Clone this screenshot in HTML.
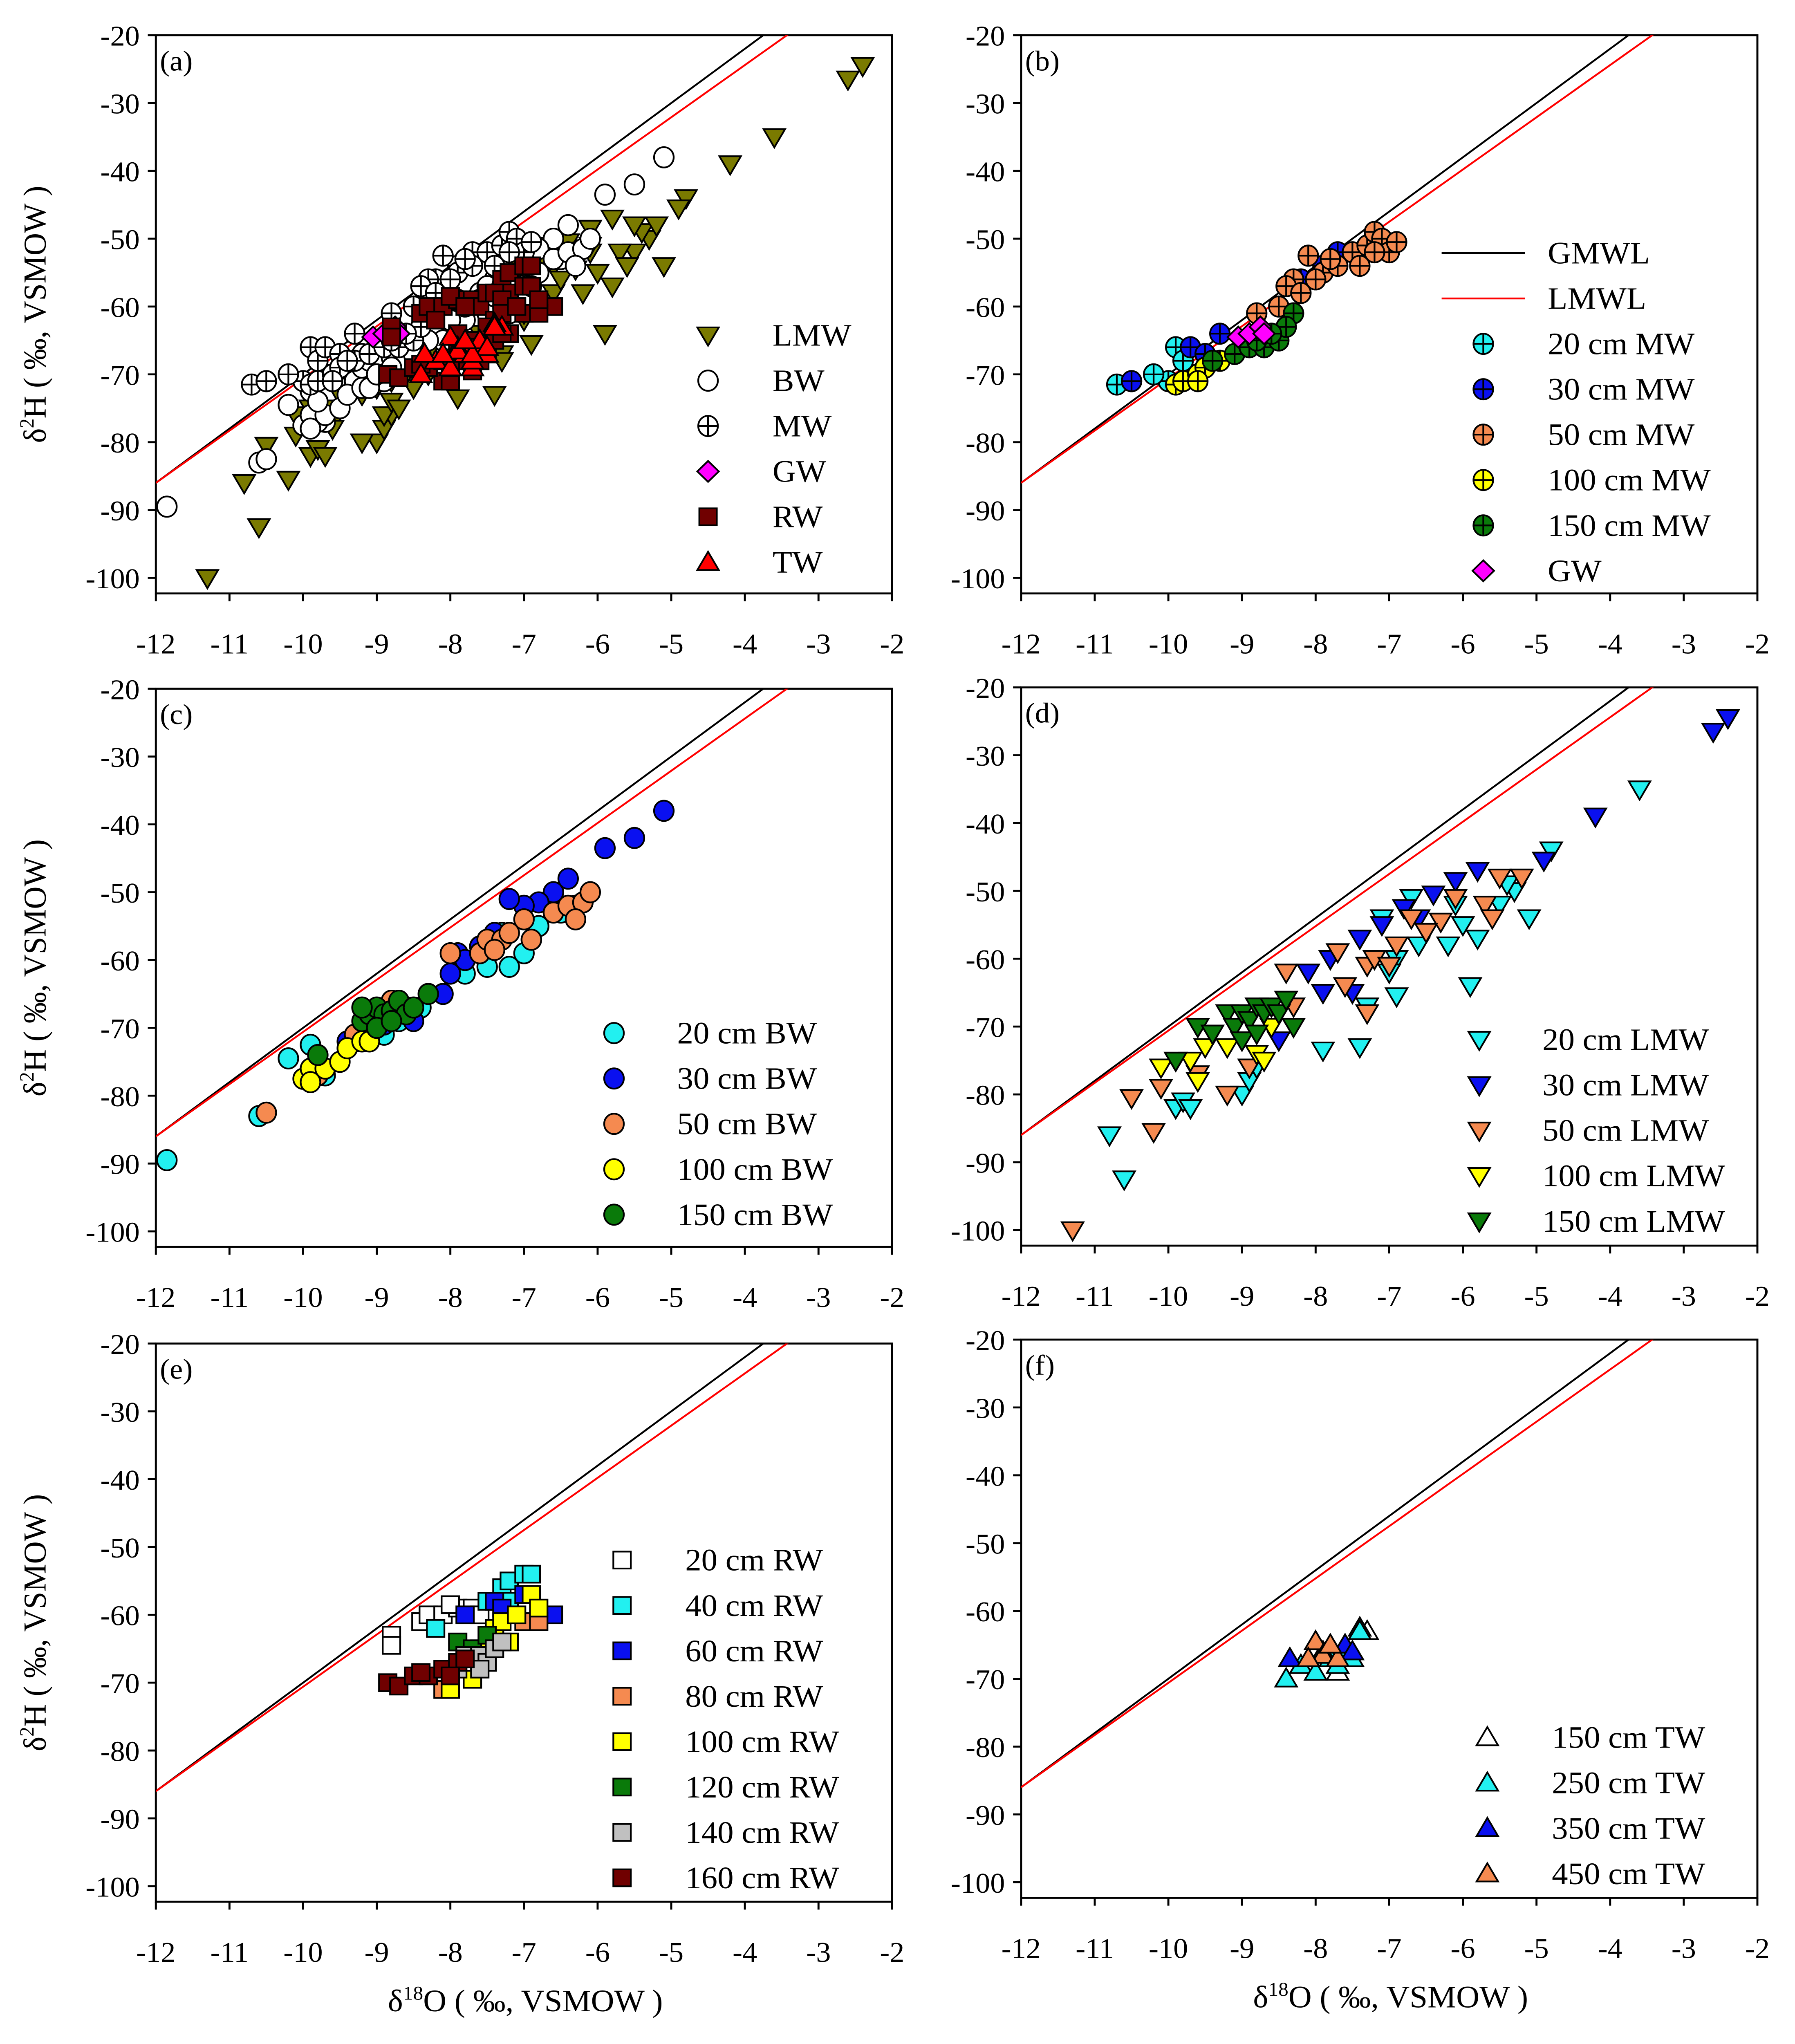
<!DOCTYPE html>
<html><head><meta charset="utf-8"><title>Isotope panels</title>
<style>html,body{margin:0;padding:0;background:#fff;width:100%;height:100%;overflow:hidden}svg{display:block;position:absolute;left:0;top:0;width:100vw;height:100vh}text{font-family:"Liberation Serif",serif;fill:#000}</style>
</head><body>
<svg id="chart" viewBox="0 0 1336 1567" preserveAspectRatio="none" xmlns="http://www.w3.org/2000/svg"></svg>
<script>
// ---- data (δ18O, δ2H) ----
const xTicks = [-12,-11,-10,-9,-8,-7,-6,-5,-4,-3,-2];
const yTicks = [-20,-30,-40,-50,-60,-70,-80,-90,-100];
const gmwl = [8, 10];
const lmwl = [7.7, 6.4];

const mw20x=[-10.7,-10.5,-10.0,-9.9,-9.8,-9.5,-10.2], mw20y=[-71.5,-71,-71,-66,-68,-67,-70];
const mw30x=[-10.5,-9.7,-9.5,-9.3,-8.9,-7.7,-7.9,-8.2], mw30y=[-71,-66,-67,-64,-65,-52,-54,-56];
const mw50x=[-8.1,-7.9,-8.3,-8.4,-8.2,-8.5,-8.0,-7.7,-7.5,-7.3,-7.2,-7.1,-7.0,-6.9,-7.4,-7.8,-8.8,-7.2];
const mw50y=[-52.5,-55,-56,-57,-58,-60,-56,-54,-52,-51,-49,-50,-52,-50.5,-54,-53,-61,-52];
const mw100x=[-9.9,-9.8,-9.6,-9.5,-9.3,-9.6], mw100y=[-71.5,-71,-70,-69,-68,-71];
const mw150x=[-9.4,-9.1,-8.9,-8.7,-8.5,-8.3,-8.4,-8.6,-8.8], mw150y=[-68,-67,-66,-66,-65,-61,-63,-64,-65];
const gwx=[-9.05,-8.9,-8.75,-8.7], gwy=[-64.5,-64,-63,-64];

const bw20x=[-11.85,-10.6,-10.2,-9.9,-9.7,-9.3,-8.9,-8.7,-8.4,-7.6,-7.5,-7.2,-7.0,-6.9,-6.8,-6.5,-6.3,-7.8,-7.3];
const bw20y=[-89.5,-83,-74.5,-72.5,-77,-72,-71,-69,-67,-58,-61,-61,-59,-57,-55,-53,-52,-62,-56];
const bw30x=[-5.1,-5.5,-5.9,-6.4,-6.6,-6.8,-7.0,-7.2,-7.4,-7.6,-7.9,-8.0,-8.1,-8.5,-9.4,-8.9,-7.8];
const bw30y=[-38,-42,-43.5,-48,-50,-51.5,-52,-51,-56,-58,-59,-62,-65,-69,-72,-69.5,-60];
const bw50x=[-10.5,-9.8,-9.3,-8.8,-8.6,-8.0,-7.6,-7.5,-7.3,-7.2,-7.0,-6.9,-6.6,-6.4,-6.2,-6.1,-6.3,-7.4];
const bw50y=[-82.5,-77,-71,-66,-67,-59,-59,-57,-57,-56,-54,-57,-53,-52,-51.5,-50,-54,-58.5];
const bw100x=[-10.0,-9.9,-9.7,-9.5,-9.4,-9.2,-9.1,-9.0,-9.9], bw100y=[-77.5,-76,-76,-75,-73,-72,-72,-70,-78];
const bw150x=[-9.8,-9.2,-9.1,-9.0,-8.9,-8.8,-8.7,-8.6,-8.5,-8.3,-9.0,-9.2,-8.8];
const bw150y=[-74,-69,-68,-67,-68,-67.5,-66,-68,-67,-65,-70,-67,-69];

const lw20x=[-10.8,-10.6,-9.9,-9.8,-9.7,-9.0,-8.9,-8.8,-7.9,-7.4,-7.5,-7.3,-6.9,-6.9,-6.6,-6.2,-6.0,-5.9,-5.8,-5.5,-5.3,-5.1,-4.8,-3.6,-7.1,-6.7,-6.1,-5.4,-7.0];
const lw20y=[-86,-92.5,-82,-81,-82,-80,-78,-76,-73.5,-73,-65,-67,-65.5,-60,-58,-58,-55,-64,-57,-52,-50,-54,-44,-35,-54,-51,-52,-49,-62];
const lw30x=[-2.4,-2.6,-4.2,-4.9,-5.2,-5.8,-6.1,-6.4,-6.8,-7.1,-7.4,-7.8,-7.9,-8.1,-7.5,-6.6,-8.5];
const lw30y=[-24.5,-26.5,-39,-45.5,-48,-47,-48.5,-50.5,-52.5,-55,-57,-60,-65,-62,-65,-54,-72];
const lw50x=[-11.3,-10.5,-10.2,-10.1,-9.6,-9.2,-8.9,-8.3,-8.4,-7.7,-7.3,-7.2,-7.3,-6.9,-6.7,-6.3,-6.1,-5.7,-5.6,-5.2,-5.5,-7.6,-7.0,-6.5];
const lw50y=[-100,-80.5,-85.5,-79,-77,-80,-76,-67,-62,-59,-61,-60,-68,-58,-54,-54.5,-51,-52,-54,-48,-48,-64,-61,-56];
const lw100x=[-10.1,-9.9,-9.7,-9.5,-9.4,-9.2,-9.0,-8.8,-8.7,-8.6,-9.6], lw100y=[-76,-75,-75,-73,-71,-73,-72,-74,-75,-70,-78];
const lw150x=[-9.9,-9.6,-9.4,-9.2,-9.1,-9.0,-8.9,-8.8,-8.7,-8.6,-8.5,-8.4,-8.3,-9.0,-8.8];
const lw150y=[-75,-70,-71,-68,-70,-68,-69,-67,-68,-67,-68,-66,-70,-72,-71];

const rw20x=[-8.8,-8.8,-8.4,-8.3,-8.1,-7.9,-7.7,-8.0,-7.6], rw20y=[-63,-64.5,-61,-60,-60,-59,-59,-58.5,-60];
const rw40x=[-8.2,-7.3,-7.2,-7.0,-6.9,-7.5,-7.2], rw40y=[-62,-56,-55,-54,-54,-58,-58];
const rw60x=[-7.8,-7.4,-6.6,-7.3,-7.0], rw60y=[-60,-58,-60,-59,-57];
const rw80x=[-8.1,-7.0,-6.8,-7.4,-7.6], rw80y=[-71,-61,-61,-63,-65];
const rw100x=[-8.0,-7.7,-7.5,-7.4,-7.3,-7.1,-6.9,-6.8,-7.2,-7.6], rw100y=[-71,-69.5,-65,-62,-61,-60,-57,-59,-64,-67];
const rw120x=[-7.9,-7.7,-7.5], rw120y=[-64,-65,-63];
const rw140x=[-7.8,-7.6,-7.5,-7.4,-7.3,-7.9,-7.6], rw140y=[-66,-66,-67,-65,-64,-68,-68];
const rw160x=[-8.85,-8.7,-8.5,-8.3,-8.1,-7.9,-7.8,-8.4,-8.0], rw160y=[-70,-70.5,-69,-69,-68,-67,-66.5,-68.5,-69];

const tw150x=[-7.3,-7.4,-7.6,-7.7], tw150y=[-63,-62.5,-65,-69];
const tw250x=[-8.4,-8.2,-8.0,-7.8,-7.6,-7.5,-7.4,-7.7,-7.9], tw250y=[-70,-68,-69,-67,-66,-67,-63,-68,-66];
const tw350x=[-8.35,-7.6,-7.5], tw350y=[-67,-65,-66];
const tw450x=[-8.0,-7.9,-8.1,-7.7,-7.8], tw450y=[-64.5,-66.5,-67,-67,-65];

// ---- rendering ----
const NS="http://www.w3.org/2000/svg";
const svg=document.getElementById('chart');
function mk(tag,attrs,parent){const e=document.createElementNS(NS,tag);for(const k in attrs)e.setAttribute(k,attrs[k]);(parent||svg).appendChild(e);return e;}
const W=548, SY=5.2;
function xs(p,v){return p.L+(v+12)*W/10;}
function ys(p,v){return p.T+(-20-v)*SY;}

function marker(g,shape,fill,cx,cy,name){
  let e;
  if(shape==='circle'||shape==='cross'){
    e=mk('ellipse',{cx:cx,cy:cy,rx:7.3,ry:7.8,fill:fill,stroke:'#000','stroke-width':1.3},g);
    if(shape==='cross'){mk('path',{d:`M${cx-7.3} ${cy}H${cx+7.3}M${cx} ${cy-7.8}V${cy+7.8}`,stroke:'#000','stroke-width':1.3,fill:'none'},g);}
  } else if(shape==='down'){
    e=mk('path',{d:`M${cx-8} ${cy-6}L${cx+8} ${cy-6}L${cx} ${cy+8}Z`,fill:fill,stroke:'#000','stroke-width':1.3},g);
  } else if(shape==='up'){
    e=mk('path',{d:`M${cx-8} ${cy+6}L${cx+8} ${cy+6}L${cx} ${cy-8}Z`,fill:fill,stroke:'#000','stroke-width':1.3},g);
  } else if(shape==='square'){
    e=mk('rect',{x:cx-6.5,y:cy-6.5,width:13,height:13,fill:fill,stroke:'#000','stroke-width':1.3},g);
  } else if(shape==='diamond'){
    e=mk('path',{d:`M${cx} ${cy-8}L${cx+8} ${cy}L${cx} ${cy+8}L${cx-8} ${cy}Z`,fill:fill,stroke:'#000','stroke-width':1.3},g);
  }
  
  
  return e;
}

function panel(p){
  const g=mk('g',{});
  
  
  const B=p.T+82.3*SY;
  const cp=mk('clipPath',{id:'clip-'+p.id},g);
  mk('rect',{x:p.L,y:p.T,width:W,height:B-p.T},cp);
  const frame=mk('rect',{x:p.L,y:p.T,width:W,height:B-p.T,fill:'none',stroke:'#000','stroke-width':1.5},g);
  
  
  xTicks.forEach(v=>{
    const x=xs(p,v);
    mk('line',{x1:x,y1:B,x2:x,y2:B+6,stroke:'#000','stroke-width':1.5},g);
    const t=mk('text',{x:x,y:p.T+474,'font-size':22,'text-anchor':'middle'},g);
    t.textContent=v;
    
    
  });
  yTicks.forEach(v=>{
    const y=ys(p,v);
    mk('line',{x1:p.L-6,y1:y,x2:p.L,y2:y,stroke:'#000','stroke-width':1.5},g);
    const t=mk('text',{x:p.L-12,y:y+8,'font-size':22,'text-anchor':'end'},g);
    t.textContent=v;
    
    
  });
  const inner=mk('g',{'clip-path':`url(#clip-${p.id})`},g);
  [[gmwl,'#000','gmwl-line'],[lmwl,'#f00','lmwl-line']].forEach(([c,col,nm])=>{
    const l=mk('line',{x1:xs(p,-12),y1:ys(p,c[0]*-12+c[1]),x2:xs(p,-2),y2:ys(p,c[0]*-2+c[1]),stroke:col,'stroke-width':1.4},inner);
    
    
  });
  p.series.forEach(s=>{
    for(let i=0;i<s.x.length;i++) marker(inner,s.shape,s.fill,xs(p,s.x[i]),ys(p,s.y[i]),s.name+'-point');
  });
  const lab=mk('text',{x:p.L+3,y:p.T+27,'font-size':22},g);
  lab.textContent='('+p.id+')';
  
  
  let r=0;
  p.legend.forEach(it=>{
    const y=p.lg.y0+r*34.8;
    if(it.line){
      const l=mk('line',{x1:p.lg.mx-31,y1:y,x2:p.lg.mx+31,y2:y,stroke:it.line,'stroke-width':1.4},g);
      
      
    } else marker(g,it.shape,it.fill,p.lg.mx,y,'legend-marker');
    const t=mk('text',{x:p.lg.tx,y:y+8,'font-size':24},g);
    t.textContent=it.label;
    
    
    r++;
  });
  if(p.yTitle){
    const cy=p.T+214;
    const t=mk('text',{x:0,y:0,'font-size':24,'text-anchor':'middle',transform:`translate(${p.L-82},${cy}) rotate(-90)`},g);
    t.innerHTML='δ<tspan font-size="15" dy="-9">2</tspan><tspan dy="9">H ( ‰, VSMOW )</tspan>';
    
    
  }
  if(p.xTitle){
    const t=mk('text',{x:p.L+275,y:p.T+512,'font-size':24,'text-anchor':'middle'},g);
    t.innerHTML='δ<tspan font-size="15" dy="-9">18</tspan><tspan dy="9">O ( ‰, VSMOW )</tspan>';
    
    
  }
}
const cat=(...a)=>[].concat(...a);
const cyan='#22f0f0',blue='#0a10f0',orng='#f58a50',yel='#ffff00',grn='#0a7a0a',olive='#7a7a00',dred='#700000',mag='#ff00ff';

panel({id:'a',L:116,T:27,yTitle:true,lg:{mx:527,tx:575,y0:257},
 series:[
  {x:cat(lw20x,lw30x,lw50x,lw100x,lw150x),y:cat(lw20y,lw30y,lw50y,lw100y,lw150y),shape:'down',fill:olive,name:'lmw'},
  {x:cat(bw20x,bw30x,bw50x,bw100x,bw150x),y:cat(bw20y,bw30y,bw50y,bw100y,bw150y),shape:'circle',fill:'#fff',name:'bw'},
  {x:cat(mw20x,mw30x,mw50x,mw100x,mw150x),y:cat(mw20y,mw30y,mw50y,mw100y,mw150y),shape:'cross',fill:'#fff',name:'mw'},
  {x:gwx,y:gwy,shape:'diamond',fill:mag,name:'gw'},
  {x:cat(rw20x,rw40x,rw60x,rw80x,rw100x,rw120x,rw140x,rw160x),y:cat(rw20y,rw40y,rw60y,rw80y,rw100y,rw120y,rw140y,rw160y),shape:'square',fill:dred,name:'rw'},
  {x:cat(tw150x,tw250x,tw350x,tw450x),y:cat(tw150y,tw250y,tw350y,tw450y),shape:'up',fill:'#f00',name:'tw'}],
 legend:[{shape:'down',fill:olive,label:'LMW'},{shape:'circle',fill:'#fff',label:'BW'},{shape:'cross',fill:'#fff',label:'MW'},{shape:'diamond',fill:mag,label:'GW'},{shape:'square',fill:dred,label:'RW'},{shape:'up',fill:'#f00',label:'TW'}]});

panel({id:'b',L:760,T:27,lg:{mx:1104,tx:1152,y0:194},
 series:[{x:mw20x,y:mw20y,shape:'cross',fill:cyan,name:'mw20'},{x:mw30x,y:mw30y,shape:'cross',fill:blue,name:'mw30'},{x:mw50x,y:mw50y,shape:'cross',fill:orng,name:'mw50'},{x:mw100x,y:mw100y,shape:'cross',fill:yel,name:'mw100'},{x:mw150x,y:mw150y,shape:'cross',fill:grn,name:'mw150'},{x:gwx,y:gwy,shape:'diamond',fill:mag,name:'gw'}],
 legend:[{line:'#000',label:'GMWL'},{line:'#f00',label:'LMWL'},{shape:'cross',fill:cyan,label:'20 cm MW'},{shape:'cross',fill:blue,label:'30 cm MW'},{shape:'cross',fill:orng,label:'50 cm MW'},{shape:'cross',fill:yel,label:'100 cm MW'},{shape:'cross',fill:grn,label:'150 cm MW'},{shape:'diamond',fill:mag,label:'GW'}]});

panel({id:'c',L:116,T:528,yTitle:true,lg:{mx:457,tx:504,y0:792},
 series:[{x:bw20x,y:bw20y,shape:'circle',fill:cyan,name:'bw20'},{x:bw30x,y:bw30y,shape:'circle',fill:blue,name:'bw30'},{x:bw50x,y:bw50y,shape:'circle',fill:orng,name:'bw50'},{x:bw100x,y:bw100y,shape:'circle',fill:yel,name:'bw100'},{x:bw150x,y:bw150y,shape:'circle',fill:grn,name:'bw150'}],
 legend:[{shape:'circle',fill:cyan,label:'20 cm BW'},{shape:'circle',fill:blue,label:'30 cm BW'},{shape:'circle',fill:orng,label:'50 cm BW'},{shape:'circle',fill:yel,label:'100 cm BW'},{shape:'circle',fill:grn,label:'150 cm BW'}]});

panel({id:'d',L:760,T:527,lg:{mx:1101,tx:1148,y0:797},
 series:[{x:lw20x,y:lw20y,shape:'down',fill:cyan,name:'lmw20'},{x:lw30x,y:lw30y,shape:'down',fill:blue,name:'lmw30'},{x:lw50x,y:lw50y,shape:'down',fill:orng,name:'lmw50'},{x:lw100x,y:lw100y,shape:'down',fill:yel,name:'lmw100'},{x:lw150x,y:lw150y,shape:'down',fill:grn,name:'lmw150'}],
 legend:[{shape:'down',fill:cyan,label:'20 cm LMW'},{shape:'down',fill:blue,label:'30 cm LMW'},{shape:'down',fill:orng,label:'50 cm LMW'},{shape:'down',fill:yel,label:'100 cm LMW'},{shape:'down',fill:grn,label:'150 cm LMW'}]});

panel({id:'e',L:116,T:1030,yTitle:true,xTitle:true,lg:{mx:463,tx:510,y0:1196},
 series:[{x:rw20x,y:rw20y,shape:'square',fill:'#fff',name:'rw20'},{x:rw40x,y:rw40y,shape:'square',fill:cyan,name:'rw40'},{x:rw60x,y:rw60y,shape:'square',fill:blue,name:'rw60'},{x:rw80x,y:rw80y,shape:'square',fill:orng,name:'rw80'},{x:rw100x,y:rw100y,shape:'square',fill:yel,name:'rw100'},{x:rw120x,y:rw120y,shape:'square',fill:grn,name:'rw120'},{x:rw140x,y:rw140y,shape:'square',fill:'#c0c0c0',name:'rw140'},{x:rw160x,y:rw160y,shape:'square',fill:dred,name:'rw160'}],
 legend:[{shape:'square',fill:'#fff',label:'20 cm RW'},{shape:'square',fill:cyan,label:'40 cm RW'},{shape:'square',fill:blue,label:'60 cm RW'},{shape:'square',fill:orng,label:'80 cm RW'},{shape:'square',fill:yel,label:'100 cm RW'},{shape:'square',fill:grn,label:'120 cm RW'},{shape:'square',fill:'#c0c0c0',label:'140 cm RW'},{shape:'square',fill:dred,label:'160 cm RW'}]});

panel({id:'f',L:760,T:1027,xTitle:true,lg:{mx:1107,tx:1155,y0:1332},
 series:[{x:tw150x,y:tw150y,shape:'up',fill:'#fff',name:'tw150'},{x:tw250x,y:tw250y,shape:'up',fill:cyan,name:'tw250'},{x:tw350x,y:tw350y,shape:'up',fill:blue,name:'tw350'},{x:tw450x,y:tw450y,shape:'up',fill:orng,name:'tw450'}],
 legend:[{shape:'up',fill:'#fff',label:'150 cm TW'},{shape:'up',fill:cyan,label:'250 cm TW'},{shape:'up',fill:blue,label:'350 cm TW'},{shape:'up',fill:orng,label:'450 cm TW'}]});
</script>
</body></html>
